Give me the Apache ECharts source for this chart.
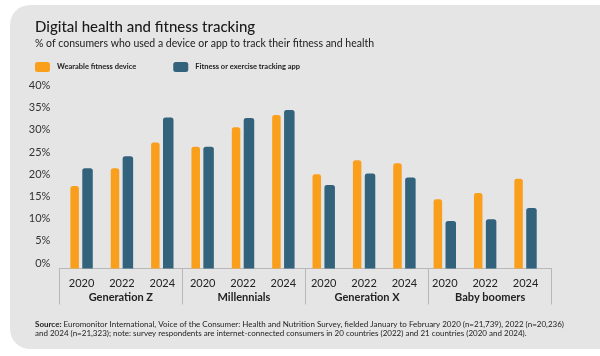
<!DOCTYPE html>
<html>
<head>
<meta charset="utf-8">
<script src="https://cdn.jsdelivr.net/npm/echarts@6/dist/echarts.min.js"></script>
<style>
html,body{margin:0;padding:0;background:#fff;}
#chart{width:600px;height:356px;}
</style>
</head>
<body>
<div id="chart"></div>
<script>
var years = ['2020','2022','2024','2020','2022','2024','2020','2022','2024','2020','2022','2024'];
var groups = ['Generation Z','Millennials','Generation X','Baby boomers'];
var wearable = [18.6, 22.6, 28.4, 27.4, 31.8, 34.6, 21.2, 24.4, 23.7, 15.6, 17.0, 20.2];
var app = [22.6, 25.3, 34.0, 27.4, 33.9, 35.7, 18.8, 21.4, 20.5, 10.7, 11.1, 13.6];
var seriesNames = ['Wearable fitness device', 'Fitness or exercise tracking app'];
var titleText = 'Digital health and fitness tracking';
var subtitleText = '% of consumers who used a device or app to track their fitness and health';
var sourceLine1 = 'Euromonitor International, Voice of the Consumer: Health and Nutrition Survey, fielded January to February 2020 (n=21,739), 2022 (n=20,236)';
var sourceLine2 = 'and 2024 (n=21,323); note: survey respondents are internet-connected consumers in 20 countries (2022) and 21 countries (2020 and 2024).';

var FONT = 'Lato';
var chart = echarts.init(document.getElementById('chart'), null, {renderer: 'canvas'});
var option = {
  animation: false,
  backgroundColor: '#ffffff',
  textStyle: {fontFamily: FONT},
  graphic: [{
    type: 'rect', z: -10, silent: true,
    shape: {x: 10, y: 5, width: 620, height: 344, r: 20},
    style: {fill: '#e5e5e5'}
  }],
  title: [
    {text: titleText, left: 30, top: 15,
     textStyle: {fontFamily: FONT, fontSize: 15, fontWeight: 500, color: '#1a1a1a'}},
    {text: subtitleText, left: 30, top: 33,
     textStyle: {fontFamily: FONT, fontSize: 10.5, fontWeight: 'normal', color: '#1a1a1a'}},
    {text: '{b|Source:} ' + sourceLine1 + '\n' + sourceLine2, left: 30, top: 315,
     textStyle: {fontFamily: FONT, fontSize: 8, fontWeight: 'normal', color: '#222', lineHeight: 9,
       rich: {b: {fontFamily: FONT, fontSize: 8, fontWeight: 'bold', color: '#222', lineHeight: 9}}}}
  ],
  legend: {
    left: 30, top: 57, itemWidth: 15, itemHeight: 10, itemGap: 37,
    icon: 'roundRect',
    textStyle: {fontFamily: FONT, fontSize: 7.5, fontWeight: 'bold', color: '#222', padding: [0,0,0,2]},
    data: seriesNames
  },
  grid: [
    {left: 61.4, right: 54.3, top: 90.9, bottom: 87.5},
    {left: 59.3, right: 48.3, top: 90.9, bottom: 87.5}
  ],
  xAxis: [
    {type: 'category', gridIndex: 0, data: years,
     axisLine: {show: false}, axisTick: {show: false},
     axisLabel: {margin: 9, fontFamily: FONT, fontSize: 11, color: '#222'}},
    {type: 'category', gridIndex: 1, data: groups,
     axisLine: {show: true, lineStyle: {color: '#b8b8b8', width: 1}},
     axisTick: {show: true, length: 36, lineStyle: {color: '#b8b8b8', width: 1}},
     axisLabel: {margin: 23, fontFamily: FONT, fontSize: 11, fontWeight: 'bold', color: '#222'}}
  ],
  yAxis: [
    {type: 'value', gridIndex: 0, min: 0, max: 40, interval: 5,
     splitLine: {show: false}, axisLine: {show: false}, axisTick: {show: false},
     axisLabel: {margin: 11, formatter: '{value}%', fontFamily: FONT, fontSize: 11, color: '#333',
       verticalAlign: 'bottom', lineHeight: 11}},
    {type: 'value', gridIndex: 1, min: 0, max: 40, show: false}
  ],
  series: [
    {name: seriesNames[0], type: 'bar', xAxisIndex: 0, yAxisIndex: 0, data: wearable,
     barWidth: 8.5, barGap: '40%',
     itemStyle: {color: '#f99f1c', borderRadius: [2.5, 2.5, 0, 0]}},
    {name: seriesNames[1], type: 'bar', xAxisIndex: 0, yAxisIndex: 0, data: app,
     barWidth: 10.5, barGap: '40%',
     itemStyle: {color: '#33637c', borderRadius: [2.5, 2.5, 0, 0]}}
  ]
};
chart.setOption(option);
</script>
</body>
</html>
